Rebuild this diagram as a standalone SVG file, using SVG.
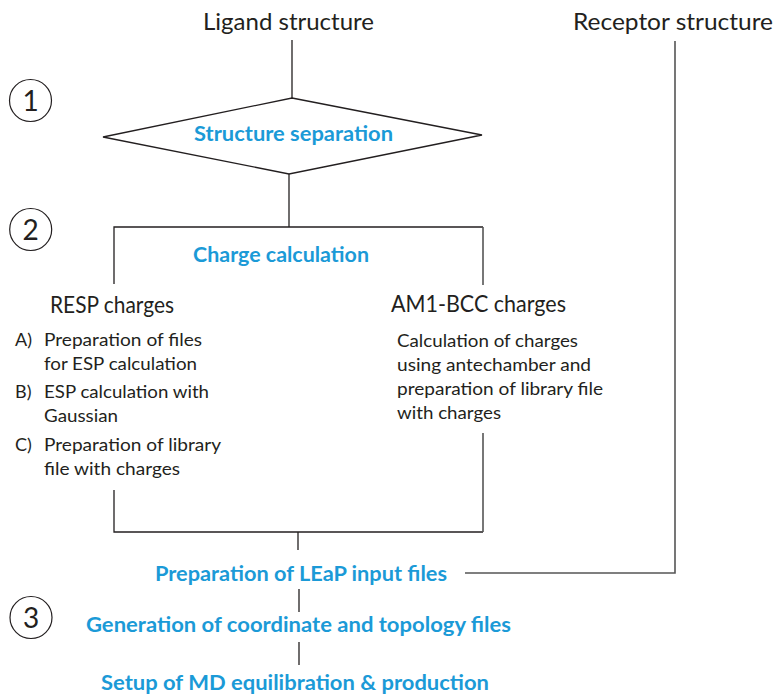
<svg xmlns="http://www.w3.org/2000/svg" width="776" height="695" viewBox="0 0 776 695">
<style>
.t{font-family:Lato,"Open Sans","Liberation Sans",sans-serif;fill:#231f20}
.h{font-size:23px}
.b{font-size:18px}
.blue{font-family:Lato,"Open Sans","Liberation Sans",sans-serif;font-weight:bold;font-size:20px;fill:#1b9ad7}
.num{font-family:Lato,"Open Sans","Liberation Sans",sans-serif;font-size:28px;fill:#231f20}
.ln{fill:none;stroke:#231f20;stroke-width:1.3}
.lg{fill:none;stroke:#555;stroke-width:1.6}
.c{fill:none;stroke:#231f20;stroke-width:1.2}
</style>
<rect width="776" height="695" fill="#fff"/>
<g id="connectors">
<line class="ln" x1="292" y1="40" x2="292" y2="98"/>
<polyline class="ln" points="289,174 289,227"/>
<polyline class="ln" points="114,284 114,227 483,227"/>
<line class="lg" x1="483" y1="227" x2="483" y2="285"/>
<polyline class="ln" points="114,490 114,532 483,532"/>
<line class="lg" x1="483" y1="433" x2="483" y2="532"/>
<line class="ln" x1="298" y1="532" x2="298" y2="550"/>
<polyline class="lg" points="675,41 675,573 465,573"/>
<line class="ln" x1="299" y1="589" x2="299" y2="612"/>
<line class="ln" x1="299" y1="642" x2="299" y2="665"/>
</g>
<g id="step1">
<circle class="c" cx="30.5" cy="100.5" r="21"/>
<text class="num" x="30.5" y="110.5" text-anchor="middle">1</text>
</g>
<g id="step2">
<circle class="c" cx="30.7" cy="229.5" r="21"/>
<text class="num" x="30.7" y="239.5" text-anchor="middle">2</text>
</g>
<g id="step3">
<circle class="c" cx="31" cy="617.5" r="21"/>
<text class="num" x="31" y="627.5" text-anchor="middle">3</text>
</g>
<g id="ligand">
<text class="t h" x="203" y="30" textLength="171" lengthAdjust="spacingAndGlyphs">Ligand structure</text>
</g>
<g id="receptor">
<text class="t h" x="573" y="30" textLength="200" lengthAdjust="spacingAndGlyphs">Receptor structure</text>
</g>
<g id="separation">
<polygon class="ln" points="292,98 482,135 289,174 103,137"/>
<text class="blue" x="194" y="141" textLength="199" lengthAdjust="spacingAndGlyphs">Structure separation</text>
</g>
<g id="charge">
<text class="blue" x="193" y="262" textLength="176" lengthAdjust="spacingAndGlyphs">Charge calculation</text>
</g>
<g id="resp">
<text class="t h" x="50" y="313" textLength="124" lengthAdjust="spacingAndGlyphs">RESP charges</text>
<text class="t b" x="15" y="346">A)</text>
<text class="t b" x="44" y="346" textLength="158" lengthAdjust="spacingAndGlyphs">Preparation of files</text>
<text class="t b" x="44" y="370" textLength="153" lengthAdjust="spacingAndGlyphs">for ESP calculation</text>
<text class="t b" x="15" y="398">B)</text>
<text class="t b" x="44" y="398" textLength="165" lengthAdjust="spacingAndGlyphs">ESP calculation with</text>
<text class="t b" x="44" y="422" textLength="74" lengthAdjust="spacingAndGlyphs">Gaussian</text>
<text class="t b" x="15" y="451">C)</text>
<text class="t b" x="44" y="451" textLength="177" lengthAdjust="spacingAndGlyphs">Preparation of library</text>
<text class="t b" x="44" y="475" textLength="136" lengthAdjust="spacingAndGlyphs">file with charges</text>
</g>
<g id="am1bcc">
<text class="t h" x="391" y="312" textLength="175" lengthAdjust="spacingAndGlyphs">AM1-BCC charges</text>
<text class="t b" x="397" y="347" textLength="181" lengthAdjust="spacingAndGlyphs">Calculation of charges</text>
<text class="t b" x="397" y="371" textLength="194" lengthAdjust="spacingAndGlyphs">using antechamber and</text>
<text class="t b" x="397" y="395" textLength="206" lengthAdjust="spacingAndGlyphs">preparation of library file</text>
<text class="t b" x="397" y="419" textLength="104" lengthAdjust="spacingAndGlyphs">with charges</text>
</g>
<g id="leap">
<text class="blue" x="155" y="581" textLength="292" lengthAdjust="spacingAndGlyphs">Preparation of LEaP input files</text>
</g>
<g id="generation">
<text class="blue" x="86" y="632" textLength="425" lengthAdjust="spacingAndGlyphs">Generation of coordinate and topology files</text>
</g>
<g id="setup">
<text class="blue" x="101" y="690" textLength="388" lengthAdjust="spacingAndGlyphs">Setup of MD equilibration &amp; production</text>
</g>
</svg>
